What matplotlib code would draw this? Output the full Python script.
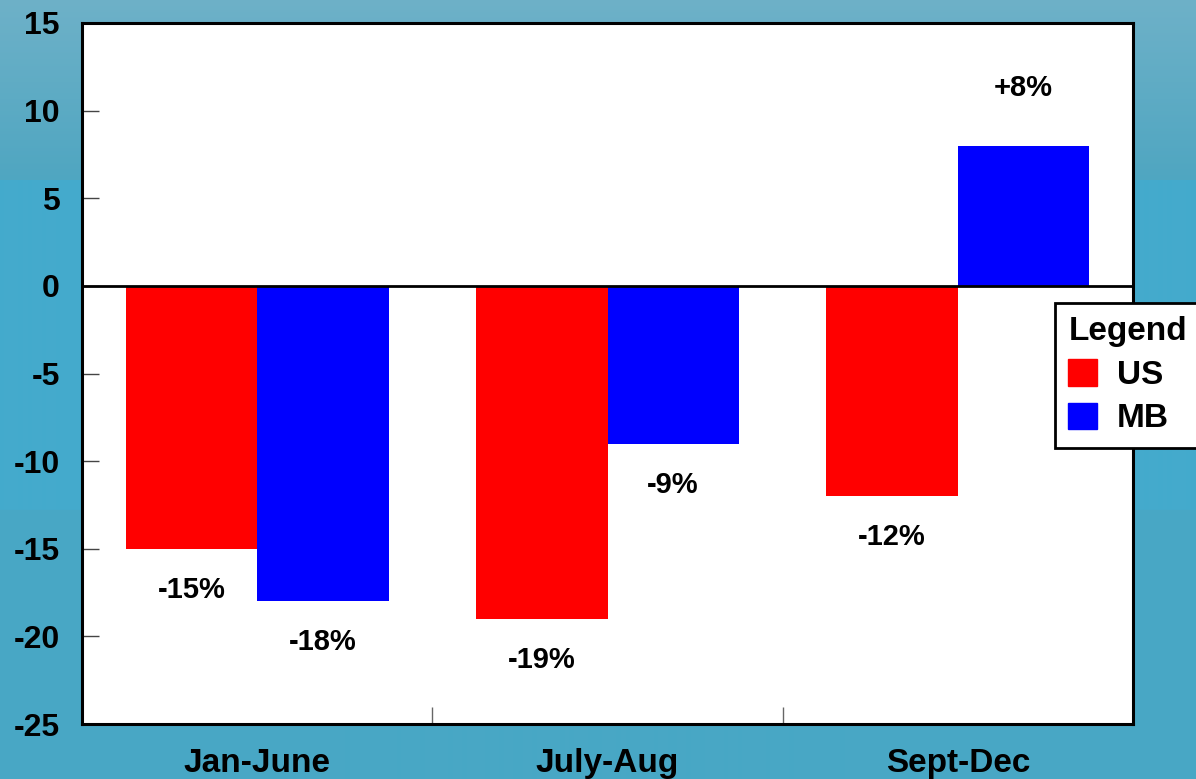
import numpy as np
import matplotlib
matplotlib.use("Agg")
import matplotlib.pyplot as plt
from matplotlib.patches import Patch
from matplotlib.colors import to_rgb

categories = ["Jan-June", "July-Aug", "Sept-Dec"]
us_values = [-15, -19, -12]
mb_values = [-18, -9, 8]
us_labels = ["-15%", "-19%", "-12%"]
mb_labels = ["-18%", "-9%", "+8%"]

plt.rcParams['font.family'] = ['Liberation Sans', 'DejaVu Sans']
plt.rcParams['font.weight'] = 'bold'
plt.rcParams['axes.unicode_minus'] = False

W, H = 1196, 779
fig = plt.figure(figsize=(W / 100, H / 100), dpi=100)

# banded teal background
bg = fig.add_axes([0, 0, 1, 1], zorder=-10)
rows = np.zeros((H, 1, 3))
top_a, top_b = np.array(to_rgb("#6eb1c8")), np.array(to_rgb("#4fa6c1"))
for r in range(H):
    if r < 180:
        t = r / 180
        rows[r, 0] = top_a * (1 - t) + top_b * t
    elif r < 510:
        rows[r, 0] = to_rgb("#44aacc")
    else:
        rows[r, 0] = to_rgb("#48a7c5")
bg.imshow(rows, aspect="auto", extent=[0, 1, 0, 1])
bg.axis("off")

ax = fig.add_axes([82 / W, 1 - 724 / H, (1133 - 82) / W, (724 - 23) / H])
ax.set_facecolor("white")

x = np.arange(len(categories))
w = 0.375
bars_us = ax.bar(x - w / 2, us_values, w, color="#ff0000", label="US", zorder=2)
bars_mb = ax.bar(x + w / 2, mb_values, w, color="#0000ff", label="MB", zorder=2)
ax.axhline(0, color="black", lw=2, zorder=3)

for bars, labels in [(bars_us, us_labels), (bars_mb, mb_labels)]:
    for b, lab in zip(bars, labels):
        h = b.get_height()
        off = -41 if h < 0 else 58
        ax.annotate(lab, (b.get_x() + b.get_width() / 2, h), xytext=(0, off),
                    textcoords="offset pixels", ha="center", va="center",
                    fontsize=21, fontweight="bold")

ax.set_xlim(-0.5, 2.5)
ax.set_ylim(-25, 15)
ax.set_yticks(range(-25, 16, 5))
ax.tick_params(axis="y", direction="in", length=12, width=1, color="#444444",
               labelsize=23, pad=16)
ax.set_xticks(x)
ax.set_xticklabels(categories)
ax.tick_params(axis="x", length=0, labelsize=24, pad=17)
ax.set_xticks([0.5, 1.5], minor=True)
ax.tick_params(axis="x", which="minor", direction="in", length=12, width=1, color="#666666")
for lab in ax.get_xticklabels() + ax.get_yticklabels():
    lab.set_fontweight("bold")
for s in ax.spines.values():
    s.set_linewidth(2.2)
    s.set_color("black")

leg = fig.legend(handles=[Patch(color="#ff0000", label="US"), Patch(color="#0000ff", label="MB")],
                 title="Legend", loc="upper left", bbox_to_anchor=(1055 / W, 1 - 303 / H),
                 fontsize=24, title_fontsize=24, fancybox=False, framealpha=1,
                 edgecolor="black", handlelength=0.85, handleheight=0.85,
                 handletextpad=0.6, borderpad=0.4, labelspacing=0.35, borderaxespad=0)
leg.get_frame().set_linewidth(2)
leg.get_title().set_fontweight("bold")
for t in leg.get_texts():
    t.set_fontweight("bold")
leg._legend_box.align = "left"

fig.savefig("out.png", dpi=100)
